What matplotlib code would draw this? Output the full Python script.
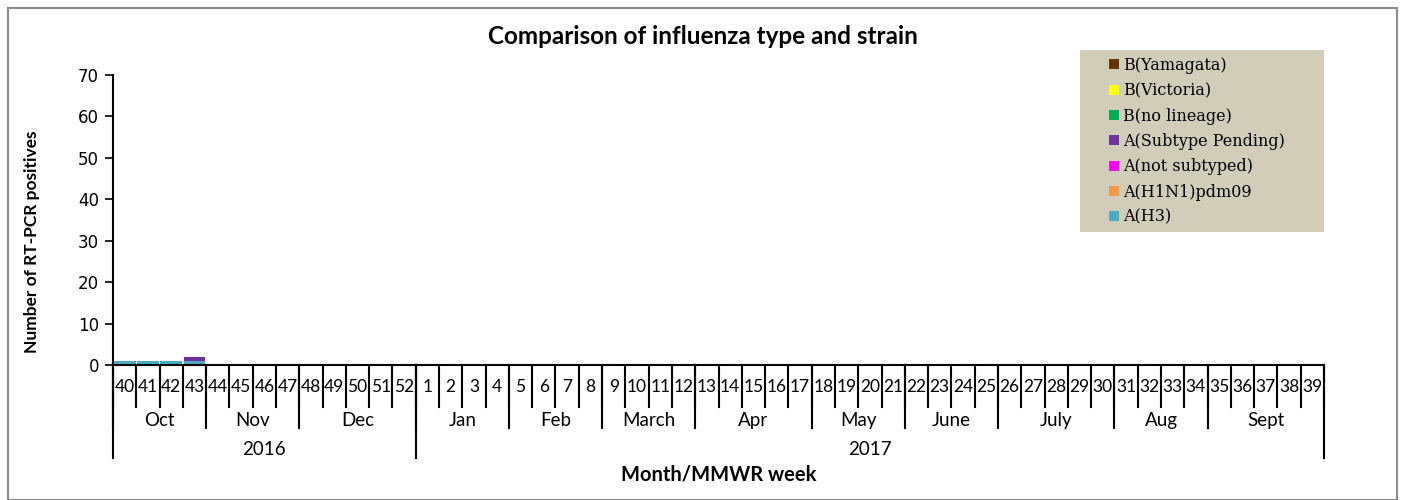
import numpy as np
import matplotlib
matplotlib.use('Agg')
import matplotlib.pyplot as plt
from matplotlib.patches import Rectangle
from matplotlib.transforms import blended_transform_factory

weeks = list(range(40, 53)) + list(range(1, 40))
months = ['Oct', 'Nov', 'Dec', 'Jan', 'Feb', 'March', 'Apr', 'May', 'June', 'July', 'Aug', 'Sept']
month_weeks = [4, 4, 5, 4, 4, 4, 5, 4, 4, 5, 4, 5]
years = ['2016', '2017']
year_weeks = [13, 39]

series = ['A(H3)', 'A(H1N1)pdm09', 'A(not subtyped)', 'A(Subtype Pending)',
          'B(no lineage)', 'B(Victoria)', 'B(Yamagata)']
colors = ['#4BACC6', '#F79646', '#FF00FF', '#7030A0', '#00B050', '#FFFF00', '#663300']

n = len(weeks)
values = {s: np.zeros(n) for s in series}
values['A(H3)'][:4] = [1, 1, 1, 1]
values['A(Subtype Pending)'][3] = 1

fig = plt.figure(figsize=[14.03, 5.0], dpi=100)
ax = fig.add_axes([113/1403, 1 - 365/500, 1211/1403, 290/500])

# outer frame
fig.patches.append(Rectangle((8/1403, 0), 1389/1403, 492/500, transform=fig.transFigure,
                             fill=False, edgecolor='#8c8c8c', linewidth=1.5))

x = np.arange(n)
bottom = np.zeros(n)
handles = []
for s, c in zip(series, colors):
    b = ax.bar(x, values[s], bottom=bottom, width=0.94, color=c, label=s)
    bottom += values[s]
    handles.append(b)

ax.set_xlim(-0.5, n - 0.5)
ax.set_ylim(0, 70)
ax.set_yticks(range(0, 71, 10))
ax.tick_params(axis='y', labelsize=12, length=6, width=1.2, pad=4, colors='black')
for lab in ax.get_yticklabels():
    lab.set_fontfamily('DejaVu Sans')
ax.set_xticks([])
for sp in ['top', 'right']:
    ax.spines[sp].set_visible(False)
ax.spines['left'].set_linewidth(1.5)
ax.spines['bottom'].set_linewidth(1.5)

# hierarchical category axis
tr = blended_transform_factory(ax.transData, ax.transAxes)
week_bot, month_bot, year_bot = -0.145, -0.217, -0.321
for i in range(n + 1):
    ax.plot([i - 0.5, i - 0.5], [0, week_bot], color='black', lw=1.5,
            transform=tr, clip_on=False)
for i, w in enumerate(weeks):
    ax.text(i, -0.075, str(w), transform=tr, ha='center', va='center',
            fontsize=12.5, family='Lato')
pos = 0
for m, k in zip(months, month_weeks):
    ax.plot([pos - 0.5, pos - 0.5], [0, month_bot], color='black', lw=1.5,
            transform=tr, clip_on=False)
    ax.text(pos + k / 2 - 0.5, -0.19, m, transform=tr, ha='center', va='center',
            fontsize=13.5, family='Lato')
    pos += k
pos = 0
for yname, k in zip(years, year_weeks):
    ax.plot([pos - 0.5, pos - 0.5], [0, year_bot], color='black', lw=1.5,
            transform=tr, clip_on=False)
    ax.text(pos + k / 2 - 0.5, -0.292, yname, transform=tr, ha='center', va='center',
            fontsize=13.5, family='Lato')
    pos += k
ax.plot([n - 0.5, n - 0.5], [0, year_bot], color='black', lw=1.5,
        transform=tr, clip_on=False)

ax.text(0.5, -0.378, 'Month/MMWR week', transform=ax.transAxes, ha='center',
        va='center', fontsize=14.5, fontweight='bold', family='Lato')
fig.text(32/1403, 1 - 242/500, 'Number of RT-PCR positives', rotation=90,
         ha='center', va='center', fontsize=12.5, fontweight='bold', family='Lato')
fig.text(703/1403, 1 - 37/500, 'Comparison of influenza type and strain',
         ha='center', va='center', fontsize=17.5, fontweight='bold', family='Lato')

# legend with tan background
fig.patches.append(Rectangle((1080/1403, 1 - 232/500), 244/1403, 182/500,
                             transform=fig.transFigure, facecolor='#D1CDB8',
                             edgecolor='none', zorder=5))
leg = fig.legend(handles[::-1], series[::-1], loc='upper left',
                 bbox_to_anchor=(1109/1403, 1 - 57/500), frameon=False,
                 prop={'family': 'DejaVu Serif', 'size': 11.5},
                 handlelength=0.6, handleheight=0.6, handletextpad=0.3,
                 labelspacing=0.52, borderpad=0, borderaxespad=0)
leg.set_zorder(6)

fig.savefig('out.png', dpi=100)
